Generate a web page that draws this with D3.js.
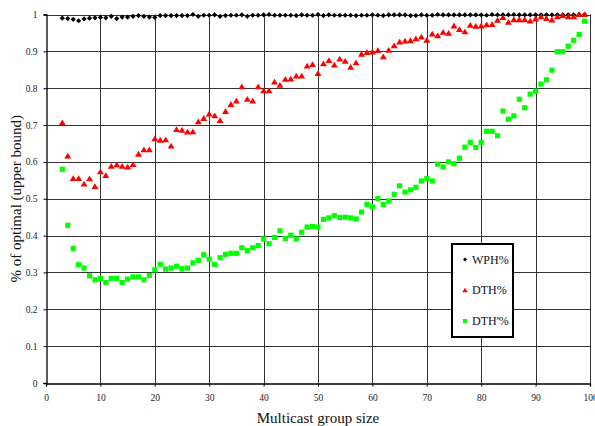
<!DOCTYPE html>
<html>
<head>
<meta charset="utf-8">
<script src="https://cdn.jsdelivr.net/npm/d3@7"></script>
<style>
  body { margin: 0; background: #fff; }
</style>
</head>
<body>
<svg width="595" height="426"></svg>
<script>
var groupSize = [3, 4, 5, 6, 7, 8, 9, 10, 11, 12, 13, 14, 15, 16, 17, 18, 19, 20,
  21, 22, 23, 24, 25, 26, 27, 28, 29, 30, 31, 32, 33, 34, 35, 36, 37, 38, 39, 40,
  41, 42, 43, 44, 45, 46, 47, 48, 49, 50, 51, 52, 53, 54, 55, 56, 57, 58, 59, 60,
  61, 62, 63, 64, 65, 66, 67, 68, 69, 70, 71, 72, 73, 74, 75, 76, 77, 78, 79, 80,
  81, 82, 83, 84, 85, 86, 87, 88, 89, 90, 91, 92, 93, 94, 95, 96, 97, 98, 99];

var wph = [0.990, 0.989, 0.987, 0.983, 0.988, 0.990, 0.991, 0.992, 0.991, 0.995,
  0.989, 0.993, 0.993, 0.995, 0.997, 0.995, 0.993, 0.992, 0.997, 0.997,
  0.997, 0.997, 0.997, 0.997, 1.000, 0.995, 0.998, 0.998, 0.999, 0.995,
  0.997, 0.998, 0.998, 0.999, 0.995, 0.998, 0.998, 0.999, 1.000, 0.998,
  0.998, 0.998, 0.998, 0.997, 0.999, 0.998, 0.998, 1.000, 0.997, 0.999,
  0.998, 0.998, 0.998, 0.998, 0.997, 0.998, 0.998, 0.999, 0.998, 0.997,
  0.999, 0.999, 0.999, 0.999, 0.997, 0.997, 0.999, 0.998, 0.998, 1.000,
  0.999, 0.999, 0.999, 0.999, 0.999, 0.999, 0.999, 0.999, 0.998, 1.000,
  0.999, 0.999, 0.999, 1.000, 0.999, 0.999, 0.999, 0.999, 0.999, 0.999,
  0.999, 0.999, 0.999, 0.999, 0.999, 1.000, 1.000];

var dth = [0.706, 0.616, 0.555, 0.555, 0.540, 0.554, 0.533, 0.573, 0.563, 0.588,
  0.592, 0.588, 0.586, 0.593, 0.621, 0.633, 0.633, 0.663, 0.659, 0.660,
  0.643, 0.688, 0.686, 0.681, 0.682, 0.709, 0.718, 0.730, 0.725, 0.712,
  0.737, 0.756, 0.765, 0.804, 0.770, 0.765, 0.804, 0.793, 0.793, 0.817,
  0.808, 0.824, 0.825, 0.833, 0.833, 0.860, 0.864, 0.840, 0.866, 0.875,
  0.863, 0.879, 0.873, 0.857, 0.869, 0.892, 0.897, 0.898, 0.902, 0.885,
  0.903, 0.915, 0.925, 0.928, 0.929, 0.934, 0.939, 0.930, 0.947, 0.942,
  0.952, 0.949, 0.969, 0.959, 0.953, 0.971, 0.968, 0.969, 0.972, 0.973,
  0.984, 0.992, 0.979, 0.986, 0.986, 0.986, 0.982, 0.988, 0.994, 0.989,
  0.985, 0.994, 0.997, 0.994, 0.994, 1.000, 1.000];

var dthPrime = [0.580, 0.428, 0.365, 0.321, 0.312, 0.291, 0.280, 0.284, 0.273, 0.284,
  0.284, 0.273, 0.282, 0.288, 0.288, 0.280, 0.292, 0.307, 0.322, 0.309,
  0.312, 0.317, 0.310, 0.312, 0.326, 0.333, 0.348, 0.336, 0.322, 0.340,
  0.349, 0.352, 0.352, 0.367, 0.359, 0.367, 0.373, 0.391, 0.378, 0.395,
  0.413, 0.392, 0.401, 0.391, 0.409, 0.423, 0.425, 0.423, 0.444, 0.448,
  0.454, 0.449, 0.450, 0.448, 0.445, 0.464, 0.485, 0.478, 0.501, 0.484,
  0.494, 0.512, 0.535, 0.518, 0.524, 0.531, 0.548, 0.555, 0.548, 0.594,
  0.586, 0.600, 0.595, 0.610, 0.640, 0.653, 0.639, 0.653, 0.683, 0.683,
  0.671, 0.738, 0.716, 0.725, 0.770, 0.747, 0.784, 0.792, 0.811, 0.823,
  0.849, 0.899, 0.899, 0.914, 0.930, 0.946, 0.982];

var xTicks = [0, 10, 20, 30, 40, 50, 60, 70, 80, 90, 100];
var yTicks = [0, 0.1, 0.2, 0.3, 0.4, 0.5, 0.6, 0.7, 0.8, 0.9, 1];
var seriesNames = ["WPH%", "DTH%", "DTH'%"];

var serif = "'Liberation Serif', 'DejaVu Serif', 'Times New Roman', serif";

var svg = d3.select("svg");

var x = d3.scaleLinear().domain([0, 100]).range([46, 590]);
var y = d3.scaleLinear().domain([0, 1]).range([383, 14.5]);

// marker shapes, centred on 0,0
function diamond(s) { return "M0," + (-s) + "L" + s + ",0L0," + s + "L" + (-s) + ",0Z"; }
function triangle(s) { return "M0," + (-s) + "L" + (s * 1.05) + "," + (s * 0.75) + "L" + (-s * 1.05) + "," + (s * 0.75) + "Z"; }
function square(s) { return "M" + (-s) + "," + (-s) + "h" + (2 * s) + "v" + (2 * s) + "h" + (-2 * s) + "Z"; }

var series = [
  {name: seriesNames[0], values: wph, color: "#000000", shape: diamond, size: 2.6, legSize: 2},
  {name: seriesNames[1], values: dth, color: "#ff0000", shape: triangle, size: 3.3, legSize: 2.6},
  {name: seriesNames[2], values: dthPrime, color: "#00ff00", shape: square, size: 2.6, legSize: 2.1}
];

var grid = svg.append("g");

grid.selectAll("line.h")
  .data(yTicks.slice(1))
  .enter().append("line")
    .attr("x1", x(0)).attr("x2", x(100))
    .attr("y1", function(d) { return Math.round(y(d)) + 0.5; })
    .attr("y2", function(d) { return Math.round(y(d)) + 0.5; })
    .attr("stroke", "#333").attr("stroke-width", 1);

grid.selectAll("line.v")
  .data(xTicks.slice(1))
  .enter().append("line")
    .attr("y1", y(0)).attr("y2", y(1))
    .attr("x1", function(d) { return Math.round(x(d)) + 0.5; })
    .attr("x2", function(d) { return Math.round(x(d)) + 0.5; })
    .attr("stroke", "#333").attr("stroke-width", 1);

// axes
var yAxis = svg.append("g")
    .attr("transform", "translate(" + (x(0) + 0.5) + ",0)")
    .call(d3.axisLeft(y).tickValues(yTicks).tickSize(3).tickPadding(6)
      .tickFormat(function(d) { return d === 0 ? "0" : d === 1 ? "1" : d3.format(".1f")(d); }));
yAxis.attr("font-family", null);
yAxis.select(".domain").attr("stroke", "#000").attr("stroke-width", 1.3);
yAxis.selectAll(".tick line").attr("stroke", "#000");
yAxis.selectAll("text").attr("fill", "#222")
    .style("font-family", serif).style("font-size", "9.5px");

var xAxis = svg.append("g")
    .attr("transform", "translate(0," + (Math.round(y(0)) + 0.5) + ")")
    .call(d3.axisBottom(x).tickValues(xTicks).tickSize(3).tickPadding(8));
xAxis.attr("font-family", null);
xAxis.select(".domain").attr("stroke", "#000").attr("stroke-width", 1.3);
xAxis.selectAll(".tick line").attr("stroke", "#000");
xAxis.selectAll("text").attr("fill", "#222")
    .style("font-family", serif).style("font-size", "9.5px");

// points
series.forEach(function(s) {
  svg.append("g").selectAll("path")
    .data(s.values)
    .enter().append("path")
      .attr("transform", function(d, i) { return "translate(" + x(groupSize[i]) + "," + y(d) + ")"; })
      .attr("d", s.shape(s.size))
      .attr("fill", s.color);
});

// titles
svg.append("text")
    .attr("x", (x(0) + x(100)) / 2)
    .attr("y", 423)
    .attr("text-anchor", "middle")
    .attr("fill", "#111")
    .style("font-family", serif).style("font-size", "15px")
    .text("Multicast group size");

svg.append("text")
    .attr("transform", "translate(21," + ((y(0) + y(1)) / 2) + ") rotate(-90)")
    .attr("text-anchor", "middle")
    .attr("fill", "#111")
    .style("font-family", serif).style("font-size", "15px")
    .text("% of optimal (upper bound)");

// legend
var legend = svg.append("g").attr("transform", "translate(452,244)");
legend.append("rect")
    .attr("width", 61).attr("height", 93)
    .attr("fill", "#fff").attr("stroke", "#000").attr("stroke-width", 2);

var item = legend.selectAll("g.item")
  .data(series)
  .enter().append("g")
    .attr("transform", function(d, i) { return "translate(13," + (15.5 + i * 30.8) + ")"; });
item.append("path")
    .attr("d", function(d) { return d.shape(d.legSize); })
    .attr("fill", function(d) { return d.color; });
item.append("text")
    .attr("x", 7)
    .attr("y", 4)
    .attr("fill", "#111")
    .style("font-family", serif).style("font-size", "12px")
    .text(function(d) { return d.name; });
</script>
</body>
</html>
